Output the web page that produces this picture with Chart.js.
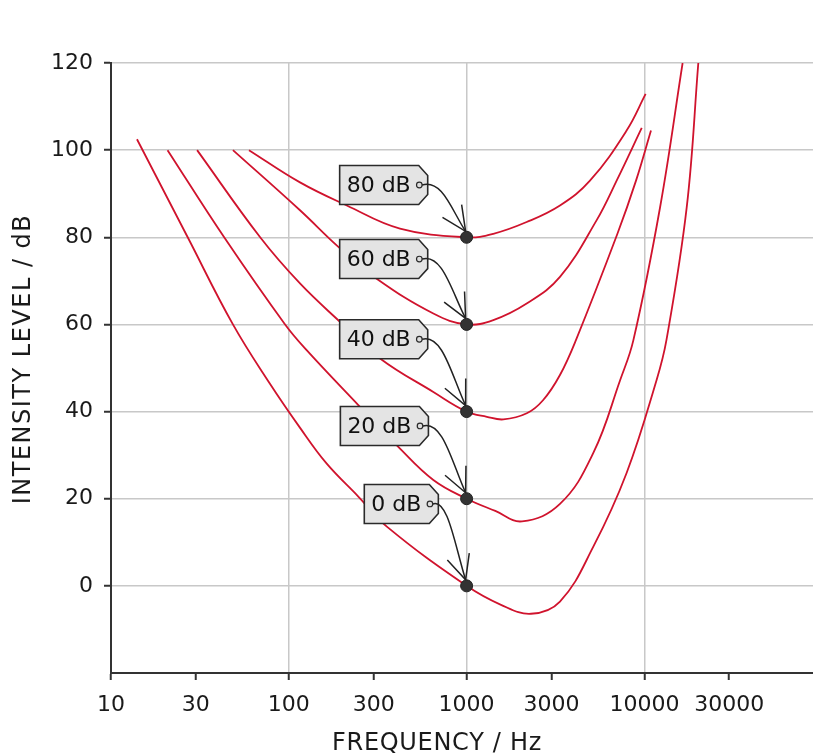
<!DOCTYPE html>
<html><head><meta charset="utf-8">
<script src="https://cdn.jsdelivr.net/npm/chart.js@4"></script>
<style>html,body{margin:0;padding:0;background:#fff;overflow:hidden;}canvas{display:block;}</style>
</head><body>
<canvas id="c" width="813" height="756"></canvas>
<script>
// ---- data ----
const xTickValues = [10, 30, 100, 300, 1000, 3000, 10000, 30000];
const xGridValues = [100, 1000, 10000];
const yTickValues = [0, 20, 40, 60, 80, 100, 120];

const contourLabels = ['0 dB', '20 dB', '40 dB', '60 dB', '80 dB'];

const freq0  = [14, 27, 48.5, 78, 116, 163, 246, 356, 1000, 1550, 2300, 3350, 5160, 7940, 11700, 13300, 17300, 20100];
const level0 = [102.5, 80, 60, 46.5, 36.2, 28.1, 20.5, 13.6, 0, -4.3, -6.4, -3.6, 9, 25.9, 47.2, 56.4, 86.9, 120];

const freq20  = [20.8, 43.3, 95.3, 126, 246, 413, 650, 1000, 1450, 2050, 3350, 5160, 7300, 8670, 12250, 16400];
const level20 = [100, 80, 60, 54.1, 41.5, 31.9, 24.3, 20, 17.2, 14.8, 18.8, 30.5, 47.2, 56.4, 86.9, 120];

const freq40  = [30.5, 69, 115.6, 194, 326, 650, 1000, 1300, 1610, 2180, 2690, 3350, 4120, 7050, 8970, 10890];
const level40 = [100, 80, 69.4, 60.6, 52.2, 44.5, 40, 38.8, 38.2, 39.6, 42.6, 48.4, 56.4, 80.8, 93, 104.5];

const freq60  = [48.5, 115.6, 190, 312, 650, 1000, 1413, 2177, 3350, 5400, 6980, 9660];
const level60 = [100, 86.2, 77.8, 70.5, 62.5, 60, 61, 64.8, 70.9, 84, 93, 105.1];

const freq80  = [59.7, 115.6, 212, 422, 1000, 1413, 2177, 3350, 4940, 7940, 10160];
const level80 = [100, 92.6, 87.3, 82, 80, 80.8, 83.5, 87.3, 93, 104.5, 112.9];

const markerFreq  = [1000, 1000, 1000, 1000, 1000];
const markerLevel = [0, 20, 40, 60, 80];

// ---- annotation placement (tag hole position in data units) ----
const tagAnchors = [
  {f: 622, l: 18.8},
  {f: 547, l: 36.7},
  {f: 542, l: 56.6},
  {f: 542, l: 75.0},
  {f: 542, l: 92.0}
];

const FONT = '"DejaVu Sans", sans-serif';
const RED = '#d0132d';

function pts(fs, ls) { return fs.map((f, i) => ({x: f, y: ls[i]})); }

const curveSets = [[freq0, level0], [freq20, level20], [freq40, level40], [freq60, level60], [freq80, level80]];

const datasets = curveSets.map((c, i) => ({
  label: contourLabels[i],
  data: pts(c[0], c[1]),
  showLine: true,
  borderColor: RED,
  borderWidth: 1.8,
  pointRadius: 0,
  fill: false,
  tension: 0.4,
  order: 2
}));
datasets.push({
  label: 'markers',
  data: pts(markerFreq, markerLevel),
  showLine: false,
  pointRadius: 6,
  pointBackgroundColor: '#333',
  pointBorderColor: '#222',
  pointBorderWidth: 1,
  order: 0
});

const tagPlugin = {
  id: 'tags',
  beforeDatasetDraw(chart, args) {
    if (args.index !== datasets.length - 1) return;
    const ctx = chart.ctx, xs = chart.scales.x, ys = chart.scales.y;
    ctx.save();
    ctx.font = '22px ' + FONT;
    tagAnchors.forEach((a, i) => {
      const hx = xs.getPixelForValue(a.f), hy = ys.getPixelForValue(a.l);
      const dx = xs.getPixelForValue(markerFreq[i]), dy = ys.getPixelForValue(markerLevel[i]);
      const tw = ctx.measureText(contourLabels[i]).width;
      const right = hx + 8.4, left = right - (tw + 24);
      const top = hy - 19.5, bottom = hy + 19.5;
      ctx.beginPath();
      ctx.moveTo(left, top);
      ctx.lineTo(right - 9, top);
      ctx.lineTo(right, top + 10);
      ctx.lineTo(right, bottom - 10);
      ctx.lineTo(right - 9, bottom);
      ctx.lineTo(left, bottom);
      ctx.closePath();
      ctx.fillStyle = '#e4e4e4';
      ctx.fill();
      ctx.lineWidth = 1.6;
      ctx.strokeStyle = '#2a2a2a';
      ctx.stroke();
      ctx.fillStyle = '#111';
      ctx.textBaseline = 'middle';
      ctx.textAlign = 'left';
      ctx.fillText(contourLabels[i], left + 7, hy + 1);
      ctx.beginPath();
      ctx.arc(hx, hy, 2.8, 0, Math.PI * 2);
      ctx.fillStyle = '#ddd';
      ctx.fill();
      ctx.lineWidth = 1.2;
      ctx.stroke();
      const tx = dx - 1, ty = dy - 6;
      const w = tx - hx, h = ty - hy;
      const c1x = hx + 0.5 * w, c1y = hy - 6;
      const c2x = tx - 0.3 * w, c2y = ty - 0.45 * h;
      ctx.beginPath();
      ctx.moveTo(hx + 2.8, hy);
      ctx.bezierCurveTo(c1x, c1y, c2x, c2y, tx, ty);
      ctx.lineWidth = 1.5;
      ctx.strokeStyle = '#222';
      ctx.stroke();
      const ang = Math.atan2(ty - c2y, tx - c2x);
      const L = 27, spread = 0.44;
      ctx.beginPath();
      ctx.moveTo(tx - L * Math.cos(ang - spread), ty - L * Math.sin(ang - spread));
      ctx.lineTo(tx, ty);
      ctx.lineTo(tx - L * Math.cos(ang + spread), ty - L * Math.sin(ang + spread));
      ctx.stroke();
    });
    ctx.restore();
  }
};

const titlePlugin = {
  id: 'axisTitles',
  afterDraw(chart) {
    const ctx = chart.ctx;
    ctx.save();
    ctx.fillStyle = '#1a1a1a';
    ctx.font = '24px ' + FONT;
    ctx.textAlign = 'center';
    ctx.textBaseline = 'middle';
    ctx.letterSpacing = '0.7px';
    ctx.fillText('FREQUENCY / Hz', 437, 744);
    ctx.letterSpacing = '1.5px';
    ctx.translate(24, 359);
    ctx.rotate(-Math.PI / 2);
    ctx.fillText('INTENSITY LEVEL / dB', 0, 0);
    ctx.restore();
  }
};

new Chart(document.getElementById('c'), {
  type: 'scatter',
  data: {datasets},
  plugins: [tagPlugin, titlePlugin],
  options: {
    responsive: false,
    animation: false,
    events: [],
    layout: {autoPadding: false, padding: {top: 63, right: 0, left: 0, bottom: 0}},
    plugins: {legend: {display: false}, tooltip: {enabled: false}},
    scales: {
      x: {
        type: 'logarithmic',
        min: 10,
        max: 88750,
        afterBuildTicks(s) { s.ticks = xTickValues.map(v => ({value: v})); },
        afterFit(s) { s.height = 83; s.paddingLeft = 0; s.paddingRight = 0; },
        ticks: {
          autoSkip: false, maxRotation: 0, minRotation: 0,
          callback: v => String(v),
          font: {family: FONT, size: 22}, color: '#1a1a1a', padding: 12
        },
        grid: {
          color: c => (c.tick && xGridValues.includes(c.tick.value)) ? '#c8c8c8' : 'rgba(0,0,0,0)',
          lineWidth: 1.5,
          drawTicks: true, tickLength: 7, tickColor: '#333', tickWidth: 2
        },
        border: {color: '#333', width: 2}
      },
      y: {
        type: 'linear',
        min: -20,
        max: 120,
        afterBuildTicks(s) { s.ticks = yTickValues.map(v => ({value: v})); },
        afterFit(s) { s.width = 111; s.paddingTop = 0; s.paddingBottom = 0; },
        ticks: {
          callback: v => String(v),
          font: {family: FONT, size: 22}, color: '#1a1a1a', padding: 11
        },
        grid: {
          color: '#c8c8c8', lineWidth: 1.5,
          drawTicks: true, tickLength: 7, tickColor: '#333', tickWidth: 2
        },
        border: {color: '#333', width: 2}
      }
    }
  }
});
</script>
</body></html>
